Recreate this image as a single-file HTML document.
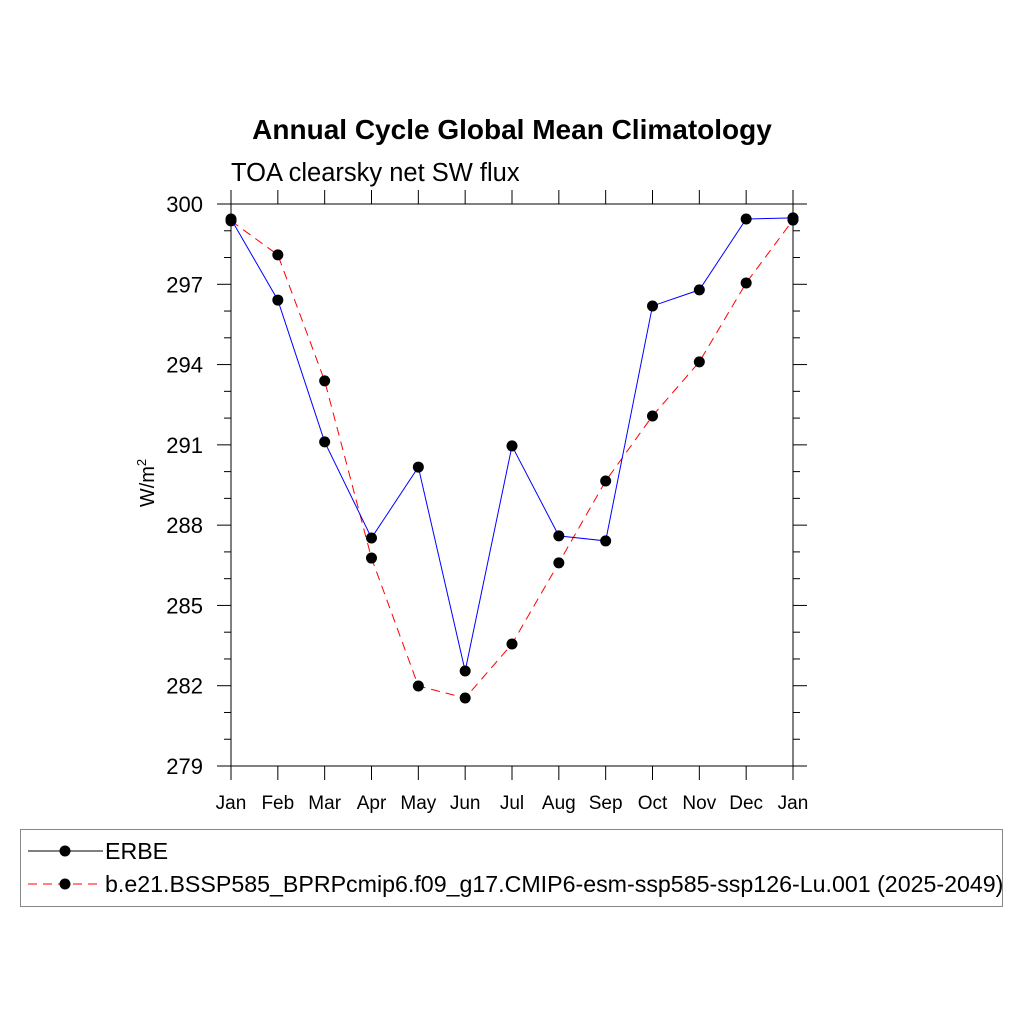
<!DOCTYPE html>
<html><head><meta charset="utf-8"><style>
body{margin:0;background:#fff;}
svg{display:block;font-family:"Liberation Sans",sans-serif;}
</style></head><body>
<svg id="c" width="1024" height="1024">
<text x="512" y="139" text-anchor="middle" font-size="28" font-weight="bold">Annual Cycle Global Mean Climatology</text>
<text x="231" y="181" font-size="25.5">TOA clearsky net SW flux</text>
<text transform="translate(154,483) rotate(-90)" text-anchor="middle" font-size="20">W/m<tspan dy="-8" font-size="13">2</tspan></text>
<g id="axes"></g>
<g id="series"></g>
<rect x="20.5" y="829.5" width="982" height="77" fill="none" stroke="#888"/>
<g>
<line x1="28" y1="851" x2="103" y2="851" stroke="#000" stroke-width="1"/>
<circle cx="65" cy="851" r="5.5" fill="#000"/>
<text x="105" y="859" font-size="23.2">ERBE</text></g>
<g>
<line x1="28" y1="884" x2="103" y2="884" stroke="#f00" stroke-width="1" stroke-dasharray="9,6"/>
<circle cx="65" cy="884" r="5.5" fill="#000"/>
<text x="105" y="892" font-size="23.2">b.e21.BSSP585_BPRPcmip6.f09_g17.CMIP6-esm-ssp585-ssp126-Lu.001 (2025-2049)</text></g>
</svg>
<script>
const months=["Jan","Feb","Mar","Apr","May","Jun","Jul","Aug","Sep","Oct","Nov","Dec","Jan"];
const yTicks=[279,282,285,288,291,294,297,300];
const erbe=[299.44,296.41,291.11,287.52,290.17,282.55,290.96,287.6,287.41,296.19,296.79,299.44,299.48];
const model=[299.37,298.1,293.39,286.77,281.99,281.54,283.56,286.59,289.65,292.08,294.1,297.05,299.4];
const L=231,R=793,T=204,B=766,ymin=279,ymax=300;
const xs=i=>L+(R-L)*i/(months.length-1);
const ys=v=>B-(v-ymin)/(ymax-ymin)*(B-T);
const NS="http://www.w3.org/2000/svg";
function mk(tag,attrs,parent){const e=document.createElementNS(NS,tag);for(const k in attrs)e.setAttribute(k,attrs[k]);parent.appendChild(e);return e;}
const ax=document.getElementById('axes');
const box=mk('rect',{x:L,y:T,width:R-L,height:B-T,fill:'none',stroke:'#000','stroke-width':1},ax);


for(let v=ymin;v<=ymax;v++){
 const y=ys(v),maj=yTicks.includes(v),len=maj?14:7;
 mk('line',{x1:L-len,y1:y,x2:L,y2:y,stroke:'#000'},ax);
 mk('line',{x1:R,y1:y,x2:R+len,y2:y,stroke:'#000'},ax);
}
yTicks.forEach(v=>{
 const t=mk('text',{x:203,y:ys(v)+8,'text-anchor':'end','font-size':22},ax);
 t.textContent=v;
 
 
});
months.forEach((m,i)=>{
 const x=xs(i);
 mk('line',{x1:x,y1:B,x2:x,y2:B+14,stroke:'#000'},ax);
 mk('line',{x1:x,y1:T-14,x2:x,y2:T,stroke:'#000'},ax);
 const t=mk('text',{x:x,y:809,'text-anchor':'middle','font-size':19},ax);
 t.textContent=m;
 
 
});
const sg=document.getElementById('series');
function series(vals,color,dash,name){
 const g=mk('g',{},sg);
 
 
 const pl=mk('polyline',{points:vals.map((v,i)=>xs(i)+','+ys(v)).join(' '),fill:'none',stroke:color,'stroke-width':1},g);
 if(dash)pl.setAttribute('stroke-dasharray','9,6');
 vals.forEach((v,i)=>{
  const c=mk('circle',{cx:xs(i),cy:ys(v),r:5.5,fill:'#000'},g);
  
  
 });
}
series(model,'#f00',true,'model-series');
series(erbe,'#00f',false,'erbe-series');
</script>
</body></html>
